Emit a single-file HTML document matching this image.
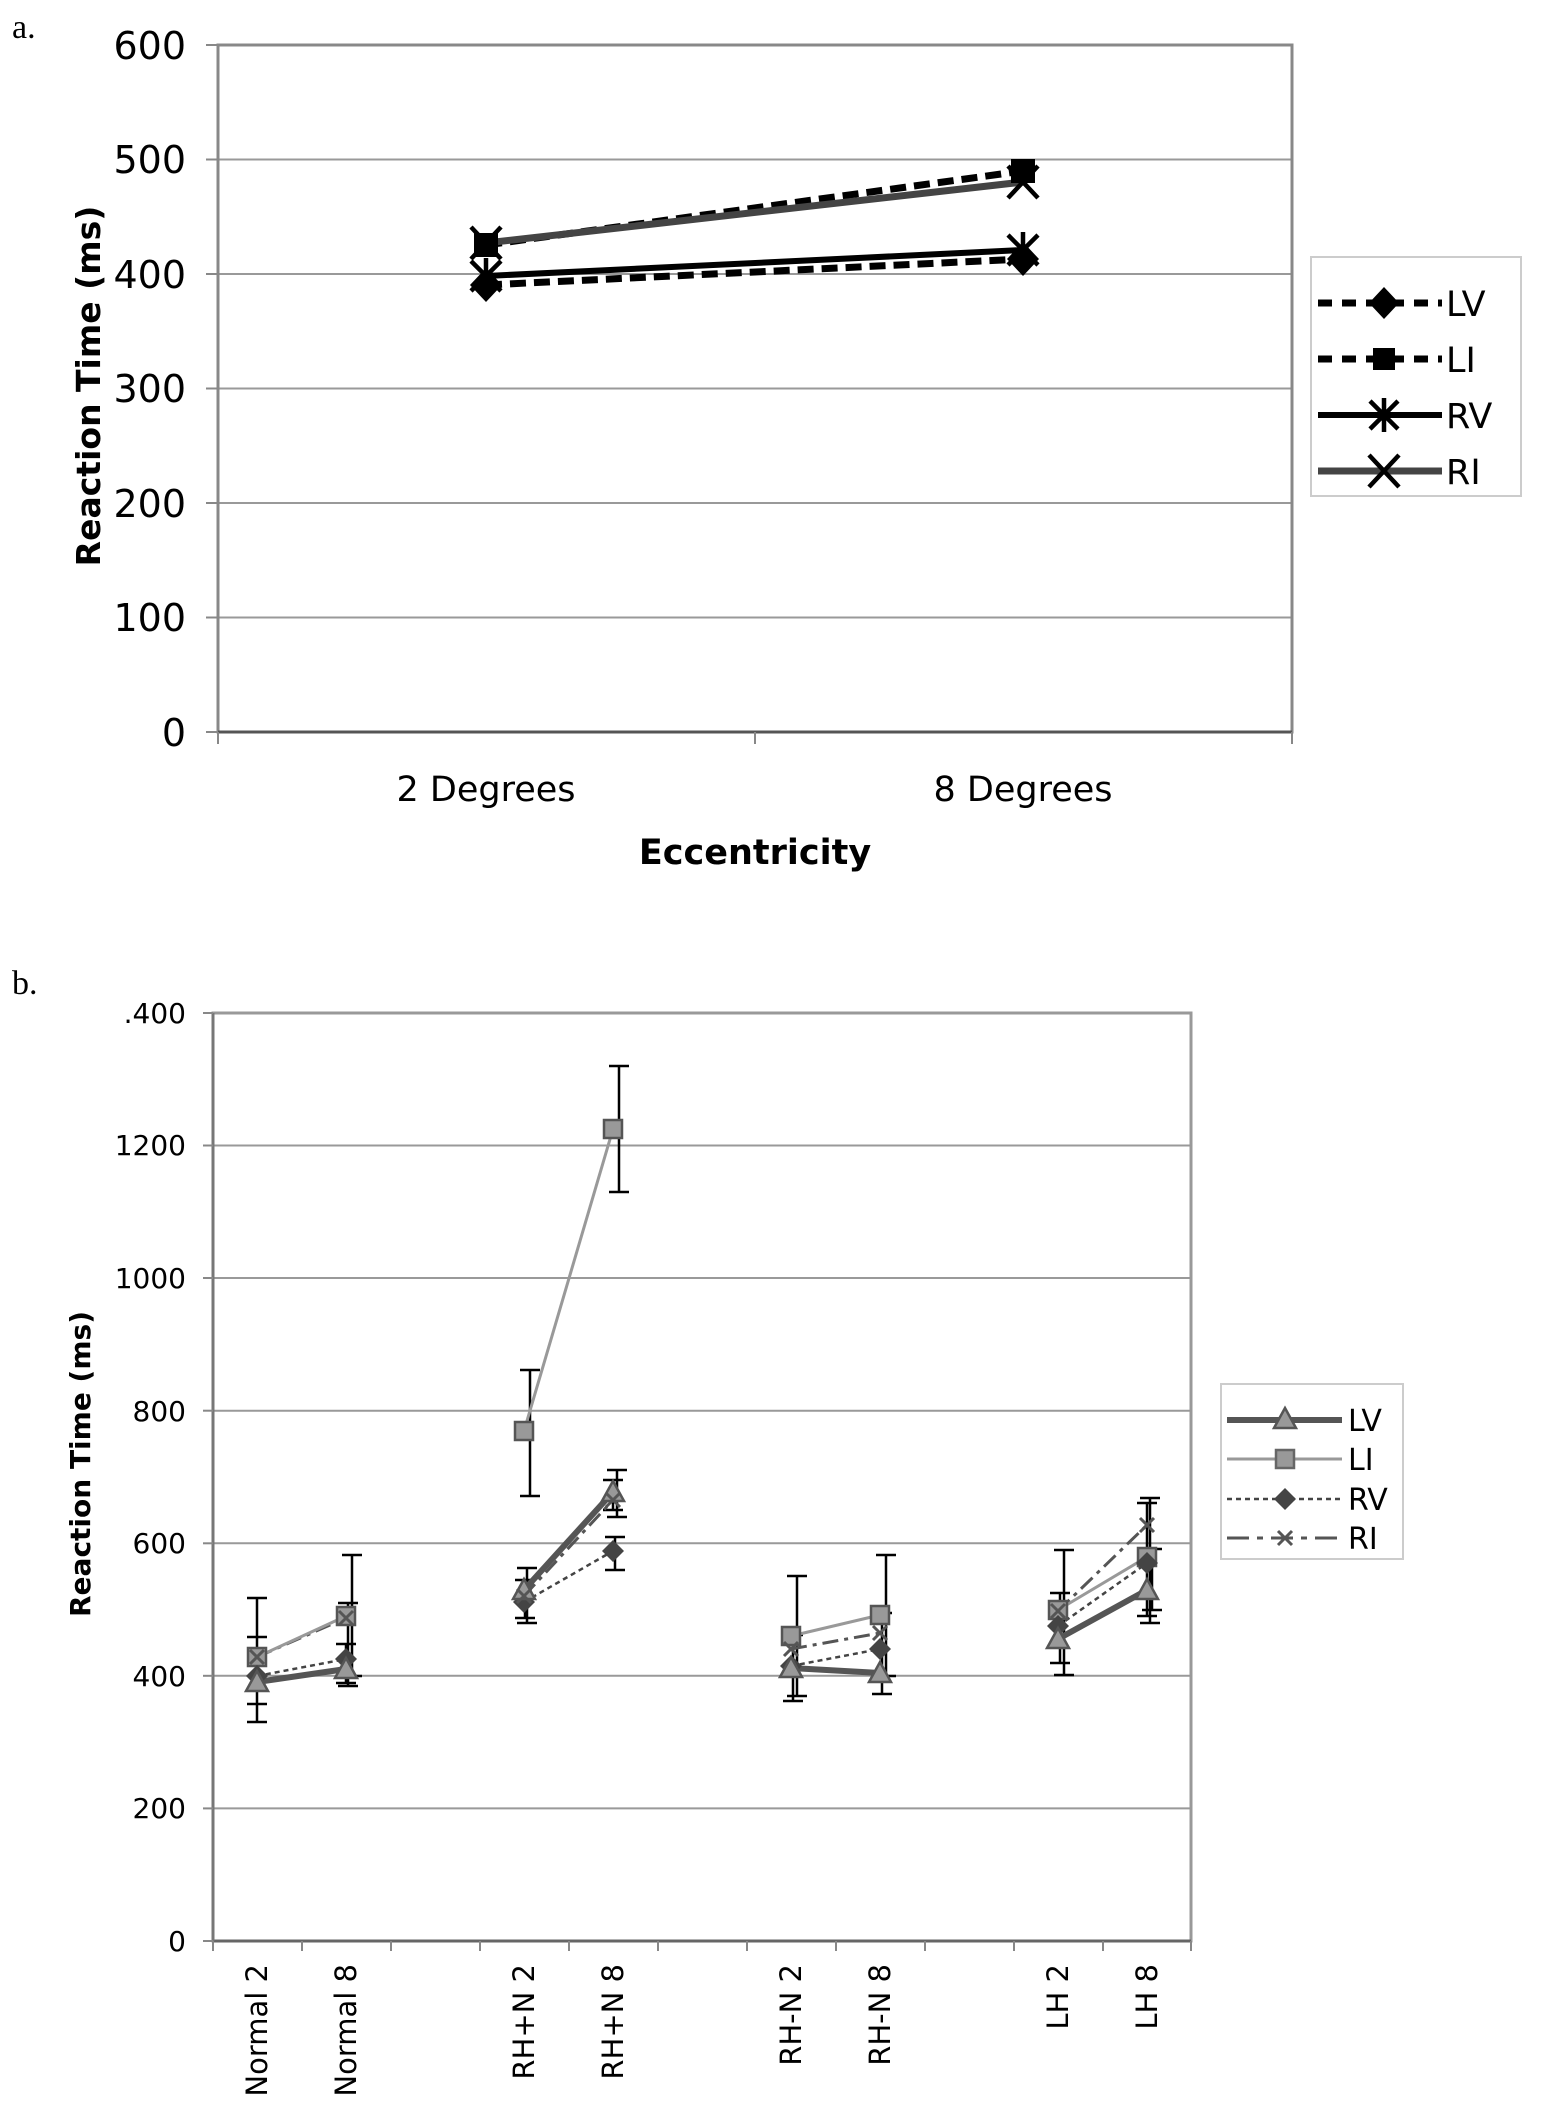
<!DOCTYPE html>
<html><head><meta charset="utf-8"><style>
html,body{margin:0;padding:0;background:#fff;}
svg{display:block;}
text{font-family:"DejaVu Sans","Liberation Sans",sans-serif;fill:#000;}
</style></head><body>
<svg width="1544" height="2104" viewBox="0 0 1544 2104" xmlns="http://www.w3.org/2000/svg">
<rect width="1544" height="2104" fill="#fff"/>
<!-- ===== Chart a ===== -->
<text x="12" y="38" style="font-family:'Liberation Serif',serif" font-size="34">a.</text>
<g stroke="#999" stroke-width="2">
<line x1="218" y1="159.5" x2="1292" y2="159.5"/>
<line x1="218" y1="274" x2="1292" y2="274"/>
<line x1="218" y1="388.5" x2="1292" y2="388.5"/>
<line x1="218" y1="503" x2="1292" y2="503"/>
<line x1="218" y1="617.5" x2="1292" y2="617.5"/>
</g>
<rect x="218" y="45" width="1074" height="687" fill="none" stroke="#888" stroke-width="3"/>
<line x1="218" y1="732" x2="1292" y2="732" stroke="#555" stroke-width="3"/>
<g stroke="#888" stroke-width="2">
<line x1="206" y1="45" x2="218" y2="45"/><line x1="206" y1="159.5" x2="218" y2="159.5"/><line x1="206" y1="274" x2="218" y2="274"/><line x1="206" y1="388.5" x2="218" y2="388.5"/><line x1="206" y1="503" x2="218" y2="503"/><line x1="206" y1="617.5" x2="218" y2="617.5"/><line x1="206" y1="732" x2="218" y2="732"/>
<line x1="218" y1="732" x2="218" y2="744"/><line x1="755" y1="732" x2="755" y2="744"/><line x1="1292" y1="732" x2="1292" y2="744"/>
</g>
<g font-size="38" text-anchor="end">
<text x="186" y="59">600</text><text x="186" y="173">500</text><text x="186" y="288">400</text><text x="186" y="402">300</text><text x="186" y="517">200</text><text x="186" y="631">100</text><text x="186" y="746">0</text>
</g>
<text transform="translate(100,386) rotate(-90)" text-anchor="middle" font-size="33" font-weight="bold">Reaction Time (ms)</text>
<g font-size="35" text-anchor="middle">
<text x="486" y="801">2 Degrees</text><text x="1023" y="801">8 Degrees</text>
</g>
<text x="755" y="864" text-anchor="middle" font-size="35" font-weight="bold">Eccentricity</text>
<!-- series a -->
<line x1="486" y1="285" x2="1023" y2="259" stroke="#000" stroke-width="7" stroke-dasharray="16,8"/>
<line x1="486" y1="245" x2="1023" y2="171" stroke="#000" stroke-width="7" stroke-dasharray="16,8"/>
<line x1="486" y1="276" x2="1023" y2="250" stroke="#000" stroke-width="6"/>
<line x1="486" y1="243" x2="1023" y2="182" stroke="#444" stroke-width="7"/>
<g fill="#000">
<polygon points="486,268 502,285 486,302 470,285"/><polygon points="1023,242 1039,259 1023,276 1007,259"/>
<rect x="474" y="233" width="24" height="24"/><rect x="1011" y="159" width="24" height="24"/>
</g>
<g stroke="#000" stroke-width="4.5" fill="none">
<path d="M471,261 L501,291 M501,261 L471,291 M486,258 V294"/>
<path d="M1008,235 L1038,265 M1038,235 L1008,265 M1023,232 V268"/>
<path d="M471,227 L501,259 M501,227 L471,259"/>
<path d="M1008,166 L1038,198 M1038,166 L1008,198"/>
</g>
<!-- legend a -->
<rect x="1311" y="257" width="210" height="239" fill="#fff" stroke="#ccc" stroke-width="2"/>
<line x1="1318" y1="303" x2="1442" y2="303" stroke="#000" stroke-width="7" stroke-dasharray="14,10"/>
<polygon points="1384,287 1399,303 1384,319 1369,303" fill="#000"/>
<line x1="1318" y1="359" x2="1442" y2="359" stroke="#000" stroke-width="7" stroke-dasharray="14,10"/>
<rect x="1373" y="348" width="22" height="22" fill="#000"/>
<line x1="1318" y1="415" x2="1442" y2="415" stroke="#000" stroke-width="6"/>
<path d="M1370,401 L1398,429 M1398,401 L1370,429 M1384,398 V432" stroke="#000" stroke-width="4.5"/>
<line x1="1318" y1="471" x2="1442" y2="471" stroke="#444" stroke-width="7"/>
<path d="M1369,455 L1399,487 M1399,455 L1369,487" stroke="#000" stroke-width="4.5"/>
<g font-size="35"><text x="1446" y="316">LV</text><text x="1446" y="372">LI</text><text x="1446" y="428">RV</text><text x="1446" y="484">RI</text></g>

<!-- ===== Chart b ===== -->
<text x="12" y="994" style="font-family:'Liberation Serif',serif" font-size="34">b.</text>
<g stroke="#999" stroke-width="2">
<line x1="213" y1="1145.5" x2="1191" y2="1145.5"/><line x1="213" y1="1278" x2="1191" y2="1278"/><line x1="213" y1="1410.7" x2="1191" y2="1410.7"/><line x1="213" y1="1543.3" x2="1191" y2="1543.3"/><line x1="213" y1="1675.8" x2="1191" y2="1675.8"/><line x1="213" y1="1808.4" x2="1191" y2="1808.4"/>
</g>
<rect x="213" y="1013" width="978" height="928" fill="none" stroke="#999" stroke-width="3"/>
<line x1="213" y1="1941" x2="1191" y2="1941" stroke="#666" stroke-width="3"/>
<line x1="213" y1="1013" x2="213" y2="1941" stroke="#777" stroke-width="3"/>
<g stroke="#888" stroke-width="2">
<line x1="203" y1="1013" x2="213" y2="1013"/><line x1="203" y1="1145.5" x2="213" y2="1145.5"/><line x1="203" y1="1278" x2="213" y2="1278"/><line x1="203" y1="1410.7" x2="213" y2="1410.7"/><line x1="203" y1="1543.3" x2="213" y2="1543.3"/><line x1="203" y1="1675.8" x2="213" y2="1675.8"/><line x1="203" y1="1808.4" x2="213" y2="1808.4"/><line x1="203" y1="1941" x2="213" y2="1941"/>
<line x1="213" y1="1941" x2="213" y2="1951"/><line x1="302" y1="1941" x2="302" y2="1951"/><line x1="391" y1="1941" x2="391" y2="1951"/><line x1="480" y1="1941" x2="480" y2="1951"/><line x1="569" y1="1941" x2="569" y2="1951"/><line x1="658" y1="1941" x2="658" y2="1951"/><line x1="747" y1="1941" x2="747" y2="1951"/><line x1="836" y1="1941" x2="836" y2="1951"/><line x1="925" y1="1941" x2="925" y2="1951"/><line x1="1014" y1="1941" x2="1014" y2="1951"/><line x1="1103" y1="1941" x2="1103" y2="1951"/><line x1="1191" y1="1941" x2="1191" y2="1951"/>
</g>
<g font-size="28" text-anchor="end">
<text x="186" y="1023">.400</text><text x="186" y="1155">1200</text><text x="186" y="1288">1000</text><text x="186" y="1421">800</text><text x="186" y="1553">600</text><text x="186" y="1686">400</text><text x="186" y="1818">200</text><text x="186" y="1951">0</text>
</g>
<text transform="translate(90,1464) rotate(-90)" text-anchor="middle" font-size="28" font-weight="bold">Reaction Time (ms)</text>
<g font-size="29" text-anchor="end" style="font-family:'Liberation Sans',sans-serif">
<text transform="translate(267,1964) rotate(-90)">Normal 2</text>
<text transform="translate(356,1964) rotate(-90)">Normal 8</text>
<text transform="translate(534,1964) rotate(-90)">RH+N 2</text>
<text transform="translate(623,1964) rotate(-90)">RH+N 8</text>
<text transform="translate(801,1964) rotate(-90)">RH-N 2</text>
<text transform="translate(890,1964) rotate(-90)">RH-N 8</text>
<text transform="translate(1068,1964) rotate(-90)">LH 2</text>
<text transform="translate(1157,1964) rotate(-90)">LH 8</text>
</g>
<!-- error bars -->
<g stroke="#000" stroke-width="2.5" fill="none">
<path d="M257,1722V1598M247,1722h20M247,1598h20 M257,1704V1637M247,1704h20M247,1637h20"/>
<path d="M352,1676V1555M342,1676h20M342,1555h20 M348,1686V1603M338,1686h20M338,1603h20 M346,1683V1644M336,1683h20M336,1644h20"/>
<path d="M530,1496V1370M520,1496h20M520,1370h20 M527,1623V1568M517,1623h20M517,1568h20 M525,1618V1580M515,1618h20M515,1580h20"/>
<path d="M619,1192V1066M609,1192h20M609,1066h20 M617,1517V1470M607,1517h20M607,1470h20 M615,1570V1537M605,1570h20M605,1537h20 M613,1510V1480M603,1510h20M603,1480h20"/>
<path d="M797,1696V1576M787,1696h20M787,1576h20 M793,1701V1635M783,1701h20M783,1635h20"/>
<path d="M886,1676V1555M876,1676h20M876,1555h20 M882,1694V1613M872,1694h20M872,1613h20"/>
<path d="M1064,1675V1550M1054,1675h20M1054,1550h20 M1060,1663V1593M1050,1663h20M1050,1593h20"/>
<path d="M1150,1623V1498M1140,1623h20M1140,1498h20 M1147,1616V1503M1137,1616h20M1137,1503h20 M1152,1610V1549M1142,1610h20M1142,1549h20"/>
</g>
<!-- series b: RI -->
<g stroke="#555" stroke-width="3" stroke-dasharray="16,6,4,6" fill="none">
<path d="M257,1657L346,1618"/><path d="M524,1596L613,1500"/><path d="M791,1649L880,1633"/><path d="M1058,1611L1147,1525"/>
</g>
<!-- RV -->
<g stroke="#444" stroke-width="2.5" stroke-dasharray="5,4" fill="none">
<path d="M257,1676L346,1659"/><path d="M524,1602L613,1551"/><path d="M791,1666L880,1649"/><path d="M1058,1626L1147,1563"/>
</g>
<!-- LI -->
<g stroke="#999" stroke-width="3" fill="none">
<path d="M257,1657L346,1616"/><path d="M524,1431L613,1129"/><path d="M791,1636L880,1615"/><path d="M1058,1610L1147,1557"/>
</g>
<!-- LV -->
<g stroke="#555" stroke-width="6" fill="none">
<path d="M257,1682L346,1669"/><path d="M524,1590L613,1492"/><path d="M791,1668L880,1673"/><path d="M1058,1639L1147,1590"/>
</g>
<!-- markers -->
<g fill="#999" stroke="#555" stroke-width="2.5">
<rect x="248" y="1648" width="18" height="18"/><rect x="337" y="1607" width="18" height="18"/><rect x="515" y="1422" width="18" height="18"/><rect x="604" y="1120" width="18" height="18"/><rect x="782" y="1627" width="18" height="18"/><rect x="871" y="1606" width="18" height="18"/><rect x="1049" y="1601" width="18" height="18"/><rect x="1138" y="1548" width="18" height="18"/>
</g>
<g fill="#444">
<polygon points="257,1665 268,1676 257,1687 246,1676"/><polygon points="346,1648 357,1659 346,1670 335,1659"/><polygon points="524,1591 535,1602 524,1613 513,1602"/><polygon points="613,1540 624,1551 613,1562 602,1551"/><polygon points="791,1655 802,1666 791,1677 780,1666"/><polygon points="880,1638 891,1649 880,1660 869,1649"/><polygon points="1058,1615 1069,1626 1058,1637 1047,1626"/><polygon points="1147,1552 1158,1563 1147,1574 1136,1563"/>
</g>
<g fill="#999" stroke="#555" stroke-width="2.5">
<polygon points="257,1671 268,1691 246,1691"/><polygon points="346,1658 357,1678 335,1678"/><polygon points="524,1579 535,1599 513,1599"/><polygon points="613,1481 624,1501 602,1501"/><polygon points="791,1657 802,1677 780,1677"/><polygon points="880,1662 891,1682 869,1682"/><polygon points="1058,1628 1069,1648 1047,1648"/><polygon points="1147,1579 1158,1599 1136,1599"/>
</g>
<g stroke="#555" stroke-width="3">
<path d="M250,1650l14,14m0,-14l-14,14"/><path d="M339,1611l14,14m0,-14l-14,14"/><path d="M517,1589l14,14m0,-14l-14,14"/><path d="M606,1493l14,14m0,-14l-14,14"/><path d="M784,1642l14,14m0,-14l-14,14"/><path d="M873,1626l14,14m0,-14l-14,14"/><path d="M1051,1604l14,14m0,-14l-14,14"/><path d="M1140,1518l14,14m0,-14l-14,14"/>
</g>
<!-- legend b -->
<rect x="1221" y="1384" width="182" height="175" fill="#fff" stroke="#ccc" stroke-width="2"/>
<line x1="1227" y1="1420" x2="1342" y2="1420" stroke="#555" stroke-width="6"/>
<polygon points="1285,1408 1296,1428 1274,1428" fill="#999" stroke="#555" stroke-width="2.5"/>
<line x1="1227" y1="1459" x2="1342" y2="1459" stroke="#999" stroke-width="3"/>
<rect x="1276" y="1450" width="18" height="18" fill="#999" stroke="#666" stroke-width="2.5"/>
<line x1="1227" y1="1499" x2="1342" y2="1499" stroke="#444" stroke-width="2.5" stroke-dasharray="5,4"/>
<polygon points="1285,1488 1296,1499 1285,1510 1274,1499" fill="#444"/>
<line x1="1227" y1="1538" x2="1342" y2="1538" stroke="#555" stroke-width="3" stroke-dasharray="22,8,6,8"/>
<path d="M1278,1531l14,14m0,-14l-14,14" stroke="#555" stroke-width="3"/>
<g font-size="30"><text x="1348" y="1431">LV</text><text x="1348" y="1470">LI</text><text x="1348" y="1510">RV</text><text x="1348" y="1549">RI</text></g>
</svg>
</body></html>
